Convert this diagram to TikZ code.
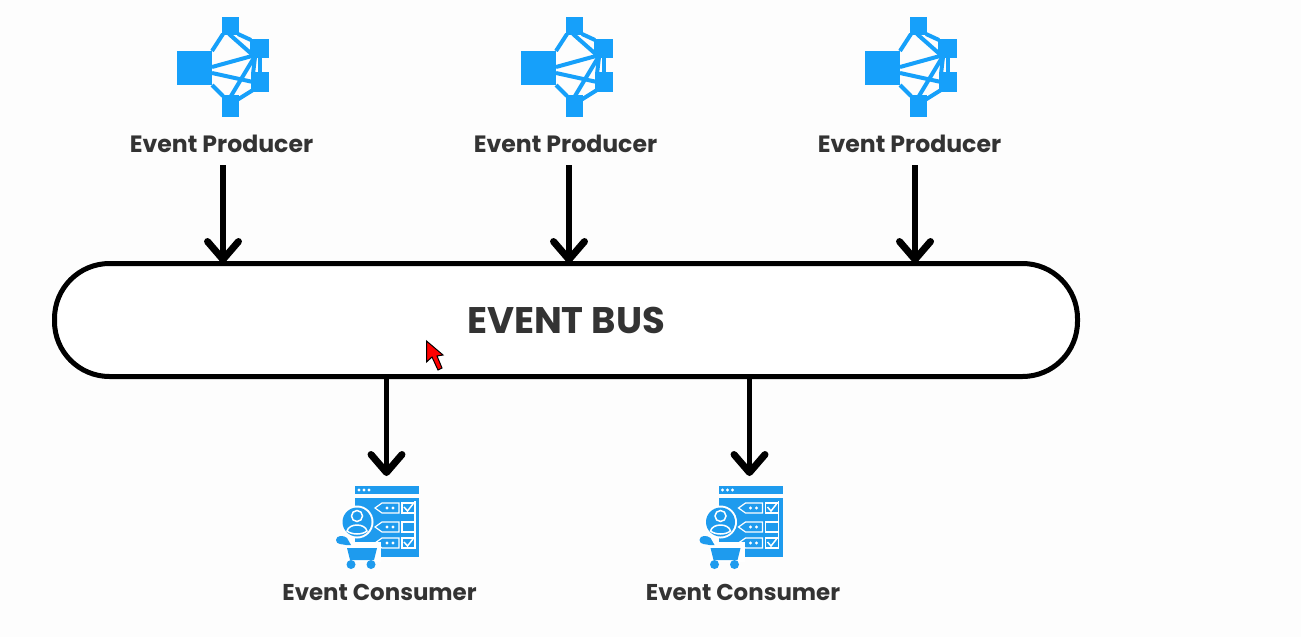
\documentclass[tikz,border=0pt]{standalone}
\usepackage{fontspec}
\setmainfont{Poppins}
\usetikzlibrary{shapes,arrows.meta}
\definecolor{iconblue}{HTML}{16A0FA}
\definecolor{shopblue}{HTML}{1E9BEE}
\definecolor{labelgrey}{HTML}{333333}
\definecolor{pagebg}{HTML}{FDFDFD}
\tikzstyle{line} = [draw, line width=5.5pt, -{Straight Barb[round, length=18pt, width=31pt, line width=7pt]}]
\tikzstyle{lbl} = [text=labelgrey, font=\fontsize{23.6}{26}\selectfont\bfseries, inner sep=0pt, node distance=344pt]
\tikzstyle{conslbl} = [lbl, font=\fontsize{22.9}{26}\selectfont\bfseries, node distance=363.5pt]
\tikzstyle{bus} = [rectangle, rounded corners=55pt, draw, line width=5pt, fill=white, minimum width=1023pt, minimum height=113pt, text=labelgrey, font=\fontsize{37}{40}\selectfont\bfseries]
\tikzstyle{spoke} = [draw=iconblue, line width=4pt]
\tikzstyle{rowbox} = [draw=white, line width=1.2pt, fill=shopblue]
\tikzset{
	producer/.pic={
		% four ports, origin at the top left of the icon
		\fill [iconblue] (0,35) rectangle (35,69);
		\fill [iconblue] (45,1) rectangle (62,19);
		\fill [iconblue] (45,79) rectangle (62,101);
		\fill [iconblue] (73,23) rectangle (92,42);
		\fill [iconblue] (74,56) rectangle (92,76);
		\path [spoke] (35,35) -- (46,18);
		\path [spoke] (35,69) -- (46,80);
		\path [spoke] (61,18) -- (74,24);
		\path [spoke] (60,84) -- (76,74);
		\path [spoke] (52,18) -- (78,41) -- (76,58);
		\path [spoke] (78,40) -- (54,80);
		\path [spoke] (35,51) -- (75,40);
		\path [spoke] (35,57) -- (76,66);
		\path [spoke] (83,41) -- (83,57);
	},
	shopper/.pic={
		% browser window with three rows, origin at the top left of the window
		\fill [shopblue] (0,0) rectangle (64,8);
		\fill [shopblue] (0,12) rectangle (64,71);
		\foreach \dotx in {4,9,14} \fill [white] (\dotx,4) circle (1.6);
		\draw [white, line width=1.2pt] (60,15) -- (60,63);
		\foreach \rowy/\tick in {22/1,41/0,57/1} {
			\path [rowbox] (20,\rowy) -- (27,\rowy-5) -- (44,\rowy-5) -- (44,\rowy+5) -- (27,\rowy+5) -- cycle;
			\path [rowbox] (47,\rowy-5) rectangle (60,\rowy+5);
			\foreach \dotx in {32,38} \fill [white] (\dotx,\rowy) circle (1.6);
			\ifnum\tick=1 \draw [white, line width=1.5pt] (49,\rowy-1) -- (52.5,\rowy+3) -- (58,\rowy-4); \fi
		}
		% customer and cart
		\fill [white] (2,36) circle (16.5);
		\fill [shopblue] (2,36) circle (14.5);
		\path [draw=white, line width=1.5pt, fill=shopblue] (2,30) circle (5.5);
		\path [draw=white, line width=1.5pt, fill=shopblue] (-8,45) .. controls (-6,37) and (10,37) .. (12,45) .. controls (7,49) and (-3,49) .. cycle;
		\fill [white] (-9,56) rectangle (26,76);
		\fill [shopblue] (-19,54) .. controls (-19,49) and (-11,49) .. (-8,52) -- (-4,59) -- (-9,59) .. controls (-12,58) and (-19,59) .. (-19,54);
		\fill [shopblue] (-8,62) -- (22,62) -- (19,74) -- (-5,74) -- cycle;
		\fill [shopblue] (-4,78.5) circle (4.5);
		\fill [shopblue] (16,78.5) circle (4.5);
	}
}

\begin{document}
\begin{tikzpicture}[x=1pt, y=-1pt]
\useasboundingbox (0,0) rectangle (1301,637);
\fill [pagebg] (0,0) rectangle (1301,637);

\node [bus] (evbus) at (566,320) {EVENT BUS};

\node [lbl] (prod1) at (221.5,143.5) {Event Producer};
\node [lbl, right of = prod1] (prod2) {Event Producer};
\node [lbl, right of = prod2] (prod3) {Event Producer};

\pic at (177,16) {producer};
\pic at (521,16) {producer};
\pic at (865,16) {producer};

\foreach \n/\ax in {1/223, 2/569, 3/915} {
	\coordinate (pstart\n) at (\ax,165);
	\coordinate (pend\n) at (\ax,263);
	\path [line] (pstart\n) to (pend\n);
}

\node [conslbl] (cons1) at (379.5,592.5) {Event Consumer};
\node [conslbl, right of = cons1] (cons2) {Event Consumer};

\pic at (355,486) {shopper};
\pic at (718.5,486) {shopper};

\foreach \n/\ax in {1/386.5, 2/749.5} {
	\coordinate (cstart\n) at (\ax,377);
	\coordinate (cend\n) at (\ax,476);
	\path [line] (cstart\n) to (cend\n);
}

% pointer
\draw [black, fill=red, line width=1pt] (426.5,341) -- (426.5,362) -- (432,357) -- (438,370) -- (442,368) -- (437,356) -- (443,355) -- cycle;
\end{tikzpicture}
\end{document}
